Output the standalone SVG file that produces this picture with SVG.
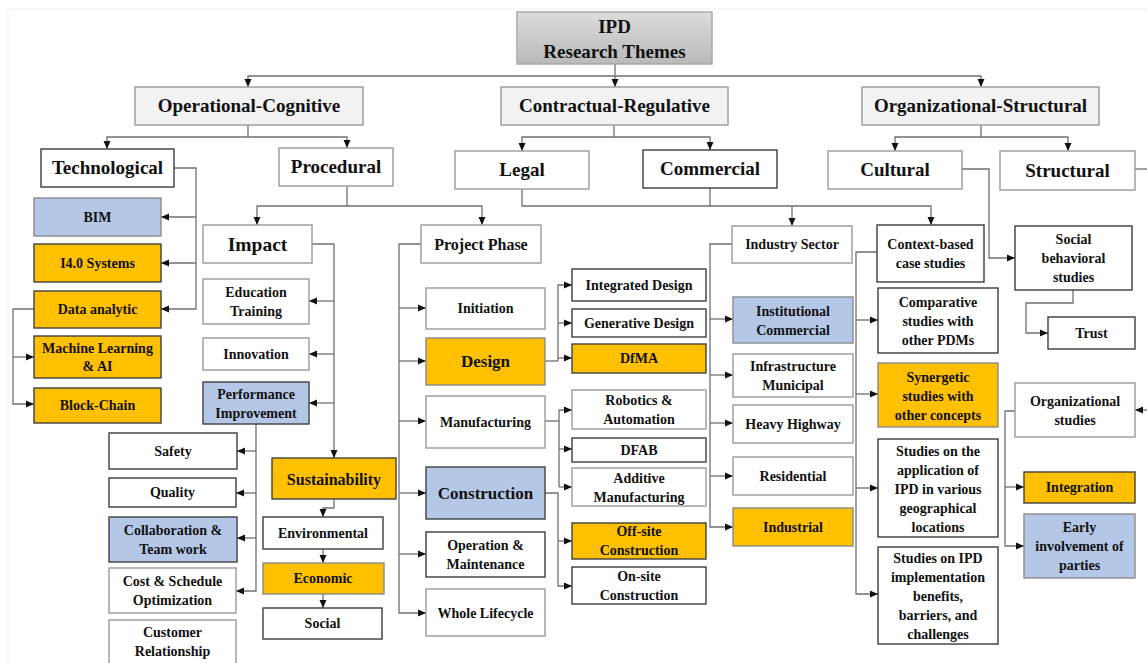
<svg xmlns="http://www.w3.org/2000/svg" width="1147" height="663" viewBox="0 0 1147 663">
  <defs>
    <linearGradient id="gradRoot" x1="0" y1="0" x2="0" y2="1">
      <stop offset="0" stop-color="#dcdcdc"/>
      <stop offset="1" stop-color="#b9b9b9"/>
    </linearGradient>
    <marker id="arrow" viewBox="0 0 8 8" refX="8" refY="4" markerWidth="8" markerHeight="8" markerUnits="userSpaceOnUse" orient="auto">
      <path d="M0,0.5 L8,4 L0,7.5 Z" fill="#111"/>
    </marker>
    <style>
      rect { stroke-width: 1.4; }
      .cat { fill: #f2f2f2; stroke: #9a9a9a; }
      .w { fill: #ffffff; stroke: #9a9a9a; }
      .wd { fill: #ffffff; stroke: #3c3c3c; }
      .or { fill: #ffc000; stroke: #8a8a8a; }
      .ord { fill: #ffc000; stroke: #404040; }
      .bl { fill: #b4c7e7; stroke: #8a8a8a; }
      .bld { fill: #b4c7e7; stroke: #404040; }
      text { font-family: "Liberation Serif", "Times New Roman", serif; font-weight: bold; fill: #111; text-anchor: middle; }
      .t18 { font-size: 19px; }
      .t17 { font-size: 17px; }
      .t16 { font-size: 16px; }
      .t15 { font-size: 15px; }
      .t14 { font-size: 14px; }
      .t13 { font-size: 13.5px; }
      .conn path { fill: none; stroke: #707070; stroke-width: 1.3; }
      .conn .a { marker-end: url(#arrow); }
    </style>
  </defs>

  <rect width="1147" height="663" fill="#ffffff" stroke="none"/>
  <path d="M8,663 V9 H1147" fill="none" stroke="#efefef" stroke-width="1"/>

  <!-- connectors -->
  <g id="connectors" class="conn">
    <!-- root to the three themes -->
    <path class="a" d="M615,64 V87"/>
    <path class="a" d="M615,76 H248 V87"/>
    <path class="a" d="M615,76 H981 V87"/>
    <!-- themes to dimensions -->
    <path class="a" d="M248,125 V137 H107 V149"/>
    <path class="a" d="M248,137 H347 V148"/>
    <path class="a" d="M614,125 V137 H522 V151"/>
    <path class="a" d="M614,137 H710 V150"/>
    <path class="a" d="M981,125 V137 H895 V151"/>
    <path class="a" d="M981,137 H1068 V151"/>
    <!-- technological -->
    <path class="a" d="M174,168 H196 V309 H161"/>
    <path class="a" d="M196,217 H161"/>
    <path class="a" d="M196,263 H161"/>
    <!-- data analytic -->
    <path class="a" d="M34,309 H13 V404 H34"/>
    <path class="a" d="M13,357 H34"/>
    <!-- procedural -->
    <path class="a" d="M347,186 V206 H257 V225"/>
    <path class="a" d="M347,206 H482 V225"/>
    <!-- impact -->
    <path class="a" d="M312,244 H334 V458"/>
    <path class="a" d="M334,301 H309"/>
    <path class="a" d="M334,354 H309"/>
    <path class="a" d="M334,403 H309"/>
    <!-- performance improvement -->
    <path class="a" d="M256,424 V591 H236"/>
    <path class="a" d="M256,451 H237"/>
    <path class="a" d="M256,493 H236"/>
    <path class="a" d="M256,538 H237"/>
    <!-- sustainability chain -->
    <path class="a" d="M334,499 V508 H323 V517"/>
    <path class="a" d="M323,549 V563"/>
    <path class="a" d="M323,594 V608"/>
    <!-- project phase -->
    <path class="a" d="M421,244 H399 V613 H426"/>
    <path class="a" d="M399,308 H426"/>
    <path class="a" d="M399,361 H426"/>
    <path class="a" d="M399,421 H426"/>
    <path class="a" d="M399,493 H426"/>
    <path class="a" d="M399,554 H426"/>
    <!-- design -->
    <path d="M545,361 H558"/>
    <path class="a" d="M558,361 V285 H572"/>
    <path class="a" d="M558,323 H572"/>
    <path class="a" d="M558,358 H572"/>
    <!-- manufacturing -->
    <path d="M545,421 H559"/>
    <path class="a" d="M559,487 V410 H572"/>
    <path class="a" d="M559,449 H572"/>
    <path class="a" d="M559,487 H572"/>
    <!-- construction -->
    <path class="a" d="M545,493 H558 V586 H572"/>
    <path class="a" d="M558,541 H572"/>
    <!-- legal and commercial -->
    <path class="a" d="M522,189 V206 H931 V225"/>
    <path d="M710,188 V206"/>
    <path class="a" d="M792,206 V226"/>
    <!-- industry sector -->
    <path class="a" d="M732,244 H710 V527 H733"/>
    <path class="a" d="M710,319 H733"/>
    <path class="a" d="M710,375 H733"/>
    <path class="a" d="M710,423 H733"/>
    <path class="a" d="M710,476 H733"/>
    <!-- context-based case studies -->
    <path class="a" d="M877,252 H856 V594 H878"/>
    <path class="a" d="M856,320 H878"/>
    <path class="a" d="M856,394 H878"/>
    <path class="a" d="M856,488 H878"/>
    <!-- cultural -->
    <path class="a" d="M962,169 H989 V258 H1015"/>
    <path class="a" d="M1073,290 V303 H1026 V333 H1048"/>
    <!-- structural -->
    <path d="M1135,169 H1147"/>
    <path class="a" d="M1147,410 H1135"/>
    <path class="a" d="M1015,411 H1005 V546 H1024"/>
    <path class="a" d="M1005,487 H1024"/>
  </g>

  <!-- root -->
  <g id="ipd">
    <rect x="517" y="12" width="195" height="52" fill="url(#gradRoot)" stroke="#a6a6a6"/>
    <text class="t18" x="614.5" y="33">IPD</text>
    <text class="t18" x="614.5" y="58">Research Themes</text>
  </g>

  <!-- themes -->
  <g id="operational-cognitive"><rect class="cat" x="135" y="87" width="228" height="38"/><text class="t18" x="249" y="112">Operational-Cognitive</text></g>
  <g id="contractual-regulative"><rect class="cat" x="501" y="87" width="227" height="38"/><text class="t18" x="614.5" y="112">Contractual-Regulative</text></g>
  <g id="organizational-structural"><rect class="cat" x="862" y="87" width="237" height="38"/><text class="t18" x="980.5" y="112">Organizational-Structural</text></g>

  <!-- dimensions -->
  <g id="technological"><rect class="wd" x="41" y="149" width="133" height="38"/><text class="t18" x="107.5" y="174">Technological</text></g>
  <g id="procedural"><rect class="w" x="279" y="148" width="114" height="38"/><text class="t18" x="336" y="173">Procedural</text></g>
  <g id="legal"><rect class="w" x="455" y="151" width="134" height="38"/><text class="t18" x="522" y="176">Legal</text></g>
  <g id="commercial"><rect class="wd" x="643" y="150" width="134" height="38"/><text class="t18" x="710" y="175">Commercial</text></g>
  <g id="cultural"><rect class="w" x="828" y="151" width="134" height="38"/><text class="t18" x="895" y="176">Cultural</text></g>
  <g id="structural"><rect class="w" x="1000" y="151" width="135" height="39"/><text class="t18" x="1067.5" y="177">Structural</text></g>

  <!-- technological topics -->
  <g id="bim"><rect class="bl" x="34" y="198" width="127" height="38"/><text class="t14" x="97.5" y="222">BIM</text></g>
  <g id="i40"><rect class="ord" x="34" y="244" width="127" height="38"/><text class="t14" x="97.5" y="268">I4.0 Systems</text></g>
  <g id="data-analytic"><rect class="ord" x="34" y="291" width="127" height="37"/><text class="t14" x="97.5" y="314">Data analytic</text></g>
  <g id="machine-learning"><rect class="ord" x="34" y="336" width="127" height="42"/><text class="t14" x="97.5" y="353">Machine Learning</text><text class="t14" x="97.5" y="371">&amp; AI</text></g>
  <g id="block-chain"><rect class="ord" x="34" y="388" width="127" height="35"/><text class="t14" x="97.5" y="410">Block-Chain</text></g>

  <!-- impact topics -->
  <g id="impact"><rect class="w" x="203" y="225" width="109" height="38"/><text style="font-size:19.5px" x="257.5" y="251">Impact</text></g>
  <g id="education"><rect class="w" x="203" y="279" width="106" height="45"/><text class="t14" x="256" y="297">Education</text><text class="t14" x="256" y="316">Training</text></g>
  <g id="innovation"><rect class="w" x="203" y="338" width="106" height="32"/><text class="t14" x="256" y="359">Innovation</text></g>
  <g id="performance"><rect class="bld" x="203" y="382" width="106" height="42"/><text class="t14" x="256" y="399">Performance</text><text class="t14" x="256" y="418">Improvement</text></g>
  <g id="safety"><rect class="wd" x="109" y="433" width="128" height="36"/><text class="t14" x="173" y="456">Safety</text></g>
  <g id="quality"><rect class="wd" x="109" y="478" width="127" height="29"/><text class="t14" x="172.5" y="497">Quality</text></g>
  <g id="collaboration"><rect class="bld" x="109" y="517" width="128" height="45"/><text class="t14" x="173" y="535">Collaboration &amp;</text><text class="t14" x="173" y="554">Team work</text></g>
  <g id="cost-schedule"><rect class="w" x="109" y="568" width="127" height="45"/><text class="t14" x="172.5" y="586">Cost &amp; Schedule</text><text class="t14" x="172.5" y="605">Optimization</text></g>
  <g id="customer"><rect class="w" x="109" y="620" width="127" height="45"/><text class="t14" x="172.5" y="637">Customer</text><text class="t14" x="172.5" y="656">Relationship</text></g>
  <g id="sustainability"><rect class="ord" x="272" y="458" width="124" height="41"/><text class="t16" x="334" y="485">Sustainability</text></g>
  <g id="environmental"><rect class="wd" x="263" y="517" width="120" height="32"/><text class="t14" x="323" y="538">Environmental</text></g>
  <g id="economic"><rect class="or" x="263" y="563" width="121" height="31"/><text class="t14" x="323" y="583">Economic</text></g>
  <g id="social"><rect class="wd" x="263" y="608" width="119" height="31"/><text class="t14" x="322.5" y="628">Social</text></g>

  <!-- project phase topics -->
  <g id="project-phase"><rect class="w" x="421" y="225" width="120" height="38"/><text class="t16" x="481" y="250">Project Phase</text></g>
  <g id="initiation"><rect class="w" x="426" y="288" width="119" height="41"/><text class="t14" x="485.5" y="313">Initiation</text></g>
  <g id="design"><rect class="or" x="426" y="338" width="119" height="47"/><text class="t17" x="485.5" y="367">Design</text></g>
  <g id="manufacturing"><rect class="w" x="426" y="396" width="119" height="52"/><text class="t14" x="485.5" y="427">Manufacturing</text></g>
  <g id="construction"><rect class="bld" x="426" y="467" width="119" height="52"/><text class="t17" x="485.5" y="499">Construction</text></g>
  <g id="operation"><rect class="wd" x="426" y="532" width="119" height="45"/><text class="t14" x="485.5" y="550">Operation &amp;</text><text class="t14" x="485.5" y="569">Maintenance</text></g>
  <g id="whole-lifecycle"><rect class="w" x="426" y="589" width="119" height="47"/><text class="t14" x="485.5" y="618">Whole Lifecycle</text></g>
  <g id="integrated-design"><rect class="wd" x="572" y="269" width="134" height="32"/><text class="t14" x="639" y="290">Integrated Design</text></g>
  <g id="generative-design"><rect class="wd" x="572" y="309" width="134" height="28"/><text class="t14" x="639" y="328">Generative Design</text></g>
  <g id="dfma"><rect class="ord" x="572" y="344" width="134" height="29"/><text class="t14" x="639" y="363">DfMA</text></g>
  <g id="robotics"><rect class="w" x="572" y="390" width="134" height="39"/><text class="t14" x="639" y="405">Robotics &amp;</text><text class="t14" x="639" y="424">Automation</text></g>
  <g id="dfab"><rect class="wd" x="572" y="438" width="134" height="24"/><text class="t14" x="639" y="455">DFAB</text></g>
  <g id="additive"><rect class="w" x="572" y="468" width="134" height="38"/><text class="t14" x="639" y="483">Additive</text><text class="t14" x="639" y="502">Manufacturing</text></g>
  <g id="off-site"><rect class="ord" x="572" y="523" width="134" height="36"/><text class="t14" x="639" y="536">Off-site</text><text class="t14" x="639" y="555">Construction</text></g>
  <g id="on-site"><rect class="wd" x="572" y="567" width="134" height="37"/><text class="t14" x="639" y="581">On-site</text><text class="t14" x="639" y="600">Construction</text></g>

  <!-- industry sector topics -->
  <g id="industry-sector"><rect class="w" x="732" y="226" width="120" height="37"/><text class="t14" x="792" y="249">Industry Sector</text></g>
  <g id="institutional"><rect class="bl" x="733" y="297" width="120" height="46"/><text class="t14" x="793" y="316">Institutional</text><text class="t14" x="793" y="335">Commercial</text></g>
  <g id="infrastructure"><rect class="w" x="733" y="354" width="120" height="43"/><text class="t14" x="793" y="371">Infrastructure</text><text class="t14" x="793" y="390">Municipal</text></g>
  <g id="heavy-highway"><rect class="w" x="733" y="405" width="120" height="38"/><text class="t14" x="793" y="429">Heavy Highway</text></g>
  <g id="residential"><rect class="w" x="733" y="457" width="120" height="38"/><text class="t14" x="793" y="481">Residential</text></g>
  <g id="industrial"><rect class="or" x="733" y="508" width="120" height="38"/><text class="t14" x="793" y="532">Industrial</text></g>

  <!-- context-based topics -->
  <g id="context-based"><rect class="wd" x="877" y="225" width="107" height="57"/><text class="t14" x="930.5" y="249">Context-based</text><text class="t14" x="930.5" y="268">case studies</text></g>
  <g id="comparative"><rect class="wd" x="878" y="288" width="120" height="65"/><text class="t14" x="938" y="307">Comparative</text><text class="t14" x="938" y="326">studies with</text><text class="t14" x="938" y="345">other PDMs</text></g>
  <g id="synergetic"><rect class="or" x="878" y="363" width="120" height="64"/><text class="t14" x="938" y="382">Synergetic</text><text class="t14" x="938" y="401">studies with</text><text class="t14" x="938" y="420">other concepts</text></g>
  <g id="geographical"><rect class="wd" x="878" y="439" width="120" height="98"/><text class="t14" x="938" y="456">Studies on the</text><text class="t14" x="938" y="475">application of</text><text class="t14" x="938" y="494">IPD in various</text><text class="t14" x="938" y="513">geographical</text><text class="t14" x="938" y="532">locations</text></g>
  <g id="implementation"><rect class="wd" x="878" y="547" width="120" height="97"/><text class="t14" x="938" y="563">Studies on IPD</text><text class="t14" x="938" y="582">implementation</text><text class="t14" x="938" y="601">benefits,</text><text class="t14" x="938" y="620">barriers, and</text><text class="t14" x="938" y="639">challenges</text></g>

  <!-- cultural and structural topics -->
  <g id="social-behavioral"><rect class="wd" x="1015" y="226" width="117" height="64"/><text class="t14" x="1073.5" y="244">Social</text><text class="t14" x="1073.5" y="263">behavioral</text><text class="t14" x="1073.5" y="282">studies</text></g>
  <g id="trust"><rect class="wd" x="1048" y="317" width="87" height="32"/><text class="t14" x="1091.5" y="338">Trust</text></g>
  <g id="organizational-studies"><rect class="w" x="1015" y="383" width="120" height="54"/><text class="t14" x="1075" y="406">Organizational</text><text class="t14" x="1075" y="425">studies</text></g>
  <g id="integration"><rect class="ord" x="1024" y="472" width="111" height="31"/><text class="t14" x="1079.5" y="492">Integration</text></g>
  <g id="early-involvement"><rect class="bl" x="1024" y="514" width="111" height="64"/><text class="t14" x="1079.5" y="532">Early</text><text class="t14" x="1079.5" y="551">involvement of</text><text class="t14" x="1079.5" y="570">parties</text></g>
</svg>
